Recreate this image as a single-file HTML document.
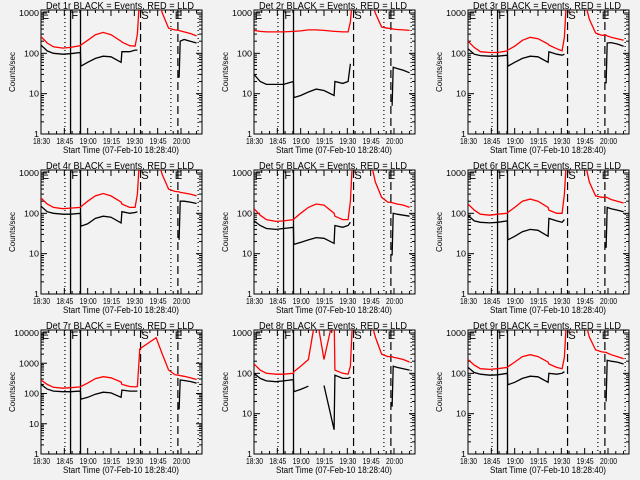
<!DOCTYPE html>
<html><head><meta charset="utf-8"><style>
body{margin:0;background:#f2f2f2}
svg{display:block;font-family:"Liberation Sans",sans-serif}
</style></head><body>
<svg id="c" width="640" height="480" viewBox="0 0 640 480" xmlns="http://www.w3.org/2000/svg">
<rect width="640" height="480" fill="#f2f2f2"/>
</svg>
<script>
// time grid, minutes after 18:30
const times=[0,4,8,14,19,25.3,25.6,30,35,40,45,51.5,52,57,60.5,62,63.5,74,78,82,86,88.8,89.5,92,96,100];
const detNames=["1r","2r","3r","4r","5r","6r","7r","8r","9r"];
const yMaxVals=[1000,1000,1000,1000,1000,1000,10000,1000,1000];
const N=null;
const black1=[160,115,100,95,98,105,48,60,75,85,82,60,110,110,120,120,N,N,N,N,N,25,200,220,200,180];
const red1=[260,180,145,135,140,155,160,210,290,330,290,200,190,155,150,300,3000,3000,1000,420,380,370,360,340,310,270];
const black2=[30,20,17,17,17,20,8,9,11,13,12,9,20,18,20,55,N,N,N,N,N,5,45,42,38,33];
const red2=[370,350,340,340,340,350,350,360,380,380,370,350,350,340,340,600,3000,3000,1000,450,420,410,400,390,380,370];
const black3=[130,95,88,85,85,90,48,60,75,85,82,60,110,95,90,95,N,N,N,N,N,18,180,185,170,150];
const red3=[200,140,110,105,105,115,120,150,210,250,230,170,160,130,115,250,3000,3000,700,320,280,280,270,250,230,210];
const black4=[150,110,100,95,95,100,48,55,75,85,80,58,110,100,105,110,N,N,N,N,N,22,200,200,190,175];
const red4=[240,170,140,130,135,140,145,200,270,310,270,190,170,140,140,300,3000,3000,900,400,350,340,330,320,300,270];
const black5=[65,50,42,40,42,45,17,19,22,25,24,18,50,45,50,60,N,N,N,N,N,9,100,95,90,85];
const red5=[130,90,70,63,65,70,72,100,140,170,160,100,85,70,70,200,3000,3000,600,250,190,185,180,170,160,140];
const black6=[90,65,60,58,60,65,22,27,35,40,38,27,75,65,60,70,N,N,N,N,N,14,140,130,120,110];
const red6=[170,120,95,90,95,100,105,140,200,225,200,140,120,100,100,300,3000,3000,600,270,250,250,245,220,200,180];
const black7=[200,140,120,115,115,120,65,75,95,110,105,75,130,120,120,120,N,N,N,N,N,30,280,270,250,220];
const red7=[280,200,160,150,155,165,170,220,310,360,330,240,200,170,165,170,3000,7000,2000,600,420,400,390,370,330,290];
const black8=[100,75,65,62,65,70,35,40,48,N,50,4,90,75,75,80,N,N,N,N,N,15,150,140,130,120];
const red8=[170,120,100,95,95,100,110,150,220,3000,220,3000,120,100,95,150,3000,3000,800,300,260,260,250,240,220,190];
const black9=[140,105,95,90,92,100,52,60,75,85,82,60,100,95,100,110,N,N,N,N,N,20,210,200,190,170];
const red9=[220,160,130,125,130,140,145,190,260,290,260,190,170,140,130,250,3000,3000,800,380,340,330,320,290,260,230];
const blacks=[black1,black2,black3,black4,black5,black6,black7,black8,black9];
const reds=[red1,red2,red3,red4,red5,red6,red7,red8,red9];
const xTickLabels=["18:30","18:45","19:00","19:15","19:30","19:45","20:00"];
const markerTimes=[15.4,19,25.4,64,83.5,88,101];
const markerStyles=["dot","solid","solid","dash","dot","dash","dot"];
const letterLabels=["E","F","S","E"];
const letterTimes=[0.5,19.5,64.5,86];

const NS="http://www.w3.org/2000/svg";
const svg=document.getElementById("c");
function mk(tag,attrs,parent){const e=document.createElementNS(NS,tag);for(const k in attrs)e.setAttribute(k,attrs[k]);(parent||svg).appendChild(e);return e;}
const L=41,R=202,T=10,B=134;
function xs(t){return L+t*(140/90);}

for(let p=0;p<9;p++){
  const ox=[0,213,427][p%3], oy=[0,160,320][Math.floor(p/3)];
  const g=mk("g",{transform:`translate(${ox},${oy})`});
  
  
  const ymax=yMaxVals[p];
  const dec=Math.log10(ymax);
  const pxDec=(B-T-3)/dec;
  const ys=v=>B-pxDec*Math.log10(v);
  const cid="clip"+p;
  const cp=mk("clipPath",{id:cid},g);mk("rect",{x:L,y:T,width:R-L,height:B-T},cp);
  const tt=mk("text",{x:46,y:9,"font-size":"10",textLength:"148",lengthAdjust:"spacingAndGlyphs",fill:"#000"},g);
  tt.textContent="Det "+detNames[p]+" BLACK = Events, RED = LLD";
  
  
  const box=mk("rect",{x:L,y:T,width:R-L,height:B-T,fill:"none",stroke:"#000","stroke-width":"1"},g);
  
  
  for(let d=0;d<=dec;d++){
    const y=ys(Math.pow(10,d));
    mk("line",{x1:L,x2:L+6,y1:y,y2:y,stroke:"#000"},g);
    mk("line",{x1:R-6,x2:R,y1:y,y2:y,stroke:"#000"},g);
    const s=String(Math.pow(10,d));
    const lb=mk("text",{x:L-2-s.length*5,y:y+3,"font-size":"8",textLength:String(s.length*5),lengthAdjust:"spacingAndGlyphs"},g);
    lb.textContent=s;
    
    
    if(d<dec)for(let m=2;m<=9;m++){const ym=ys(m*Math.pow(10,d));
      mk("line",{x1:L,x2:L+3,y1:ym,y2:ym,stroke:"#000"},g);
      mk("line",{x1:R-3,x2:R,y1:ym,y2:ym,stroke:"#000"},g);}
  }
  for(let m=0;m<=100;m+=5){const x=xs(m);const big=m%15==0;
    mk("line",{x1:x,x2:x,y1:B,y2:B-(big?6:3),stroke:"#000"},g);
    mk("line",{x1:x,x2:x,y1:T,y2:T+(big?6:3),stroke:"#000"},g);}
  xTickLabels.forEach((s,i)=>{const lb=mk("text",{x:xs(i*15)-8,y:B+10,"font-size":"8",textLength:"17",lengthAdjust:"spacingAndGlyphs"},g);
    lb.textContent=s;
    
    });
  const xt=mk("text",{x:63,y:B+19,"font-size":"9",textLength:"116",lengthAdjust:"spacingAndGlyphs"},g);
  xt.textContent="Start Time (07-Feb-10 18:28:40)";
  
  
  const yt=mk("text",{x:0,y:0,"font-size":"8","text-anchor":"middle",textLength:"40",lengthAdjust:"spacingAndGlyphs",transform:`translate(15,${(T+B)/2}) rotate(-90)`},g);
  yt.textContent="Counts/sec";
  
  
  markerTimes.forEach((t,i)=>{const st=markerStyles[i];const a={x1:xs(t),x2:xs(t),y1:T,y2:B,stroke:"#000","stroke-width":st=="solid"?1.3:1.2};
    if(st=="dot")a["stroke-dasharray"]="1,3";if(st=="dash")a["stroke-dasharray"]="8,4";
    const ln=mk("line",a,g);
    
    });
  letterLabels.forEach((s,i)=>{const lb=mk("text",{x:xs(letterTimes[i]),y:T+9,"font-size":"11"},g);
    lb.textContent=s;
    
    });
  const series=[[reds[p],"#ff0000","red-lld-series"],[blacks[p],"#000","black-events-series"]];
  series.forEach(([arr,col,nm])=>{
    let d="",pen=false;
    arr.forEach((v,i)=>{if(v==null){pen=false;return;}
      d+=(pen?"L":"M")+xs(times[i]).toFixed(1)+","+ys(v).toFixed(1);pen=true;});
    const pa=mk("path",{d:d,fill:"none",stroke:col,"stroke-width":"1.3","clip-path":`url(#${cid})`},g);
    
    
  });
}
</script>
</body></html>
